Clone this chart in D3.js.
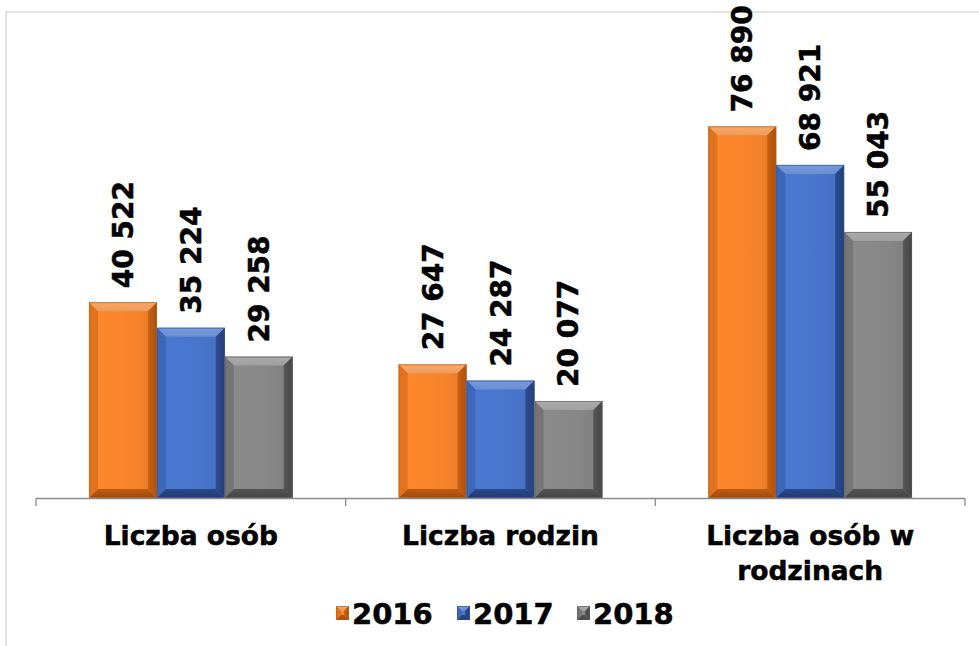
<!DOCTYPE html>
<html>
<head>
<meta charset="utf-8">
<script src="https://cdn.jsdelivr.net/npm/d3@7"></script>
<style>
  html, body { margin: 0; padding: 0; background: #fff; }
  svg { display: block; font-family: "DejaVu Sans", Verdana, sans-serif; }
</style>
</head>
<body>
<svg id="chart" width="979" height="646"></svg>
<script>
const categories = [["Liczba osób"], ["Liczba rodzin"], ["Liczba osób w", "rodzinach"]];
const categoryKeys = ["Liczba osób", "Liczba rodzin", "Liczba osób w rodzinach"];
const series = ["2016", "2017", "2018"];
const values2016 = [40522, 27647, 76890];
const values2017 = [35224, 24287, 68921];
const values2018 = [29258, 20077, 55043];
const valuesBySeries = [values2016, values2017, values2018];

const palette = {
  "2016": { base: "#F5832B", top: "#FBA865", left: "#E0731F", right: "#A9520F", bottom: "#9C4A0E", edge: "#B4601E" },
  "2017": { base: "#4875CB", top: "#7399DE", left: "#3D67B8", right: "#263F7A", bottom: "#223A70", edge: "#2F5496" },
  "2018": { base: "#868686", top: "#ABABAB", left: "#767676", right: "#474747", bottom: "#444444", edge: "#5a5a5a" }
};

const svg = d3.select("#chart");
const W = 979, H = 646;

// outer frame
svg.append("rect").attr("x", 6).attr("y", 12).attr("width", W + 20).attr("height", H + 20)
  .attr("fill", "none").attr("stroke", "#d9d9d9").attr("stroke-width", 1.5);

const x0 = d3.scaleBand().domain(categoryKeys).range([36, 965]).paddingInner(0).paddingOuter(0);
const x1 = d3.scaleBand().domain(series).range([0, x0.bandwidth()]).paddingInner(0).paddingOuter(0.78);
const y = d3.scaleLinear().domain([0, 90000]).range([498, 63]);

// gradients
const defs = svg.append("defs");
series.forEach(s => {
  const c = palette[s];
  const g = defs.append("linearGradient").attr("id", "main" + s).attr("x1", 0).attr("y1", 0).attr("x2", 1).attr("y2", 0);
  g.append("stop").attr("offset", "0%").attr("stop-color", d3.color(c.base).brighter(0.1));
  g.append("stop").attr("offset", "70%").attr("stop-color", c.base);
  g.append("stop").attr("offset", "100%").attr("stop-color", d3.color(c.base).darker(0.2));
  const gt = defs.append("linearGradient").attr("id", "top" + s).attr("x1", 0).attr("y1", 0).attr("x2", 0).attr("y2", 1);
  gt.append("stop").attr("offset", "0%").attr("stop-color", c.top);
  gt.append("stop").attr("offset", "100%").attr("stop-color", d3.color(c.top).darker(0.2));
  const gr = defs.append("linearGradient").attr("id", "right" + s).attr("x1", 0).attr("y1", 0).attr("x2", 1).attr("y2", 0);
  gr.append("stop").attr("offset", "0%").attr("stop-color", d3.color(c.right).brighter(0.5));
  gr.append("stop").attr("offset", "100%").attr("stop-color", c.right);
  const gb = defs.append("linearGradient").attr("id", "bottom" + s).attr("x1", 0).attr("y1", 0).attr("x2", 0).attr("y2", 1);
  gb.append("stop").attr("offset", "0%").attr("stop-color", d3.color(c.bottom).brighter(0.6));
  gb.append("stop").attr("offset", "100%").attr("stop-color", c.bottom);
});

function bevel(g, x, yTop, w, h, s, b) {
  const c = palette[s];
  const yb = yTop + h;
  const pt = a => a.map(p => p.join(",")).join(" ");
  g.append("rect").attr("x", x).attr("y", yTop).attr("width", w).attr("height", h).attr("fill", `url(#main${s})`);
  g.append("polygon").attr("points", pt([[x, yTop], [x + w, yTop], [x + w - b, yTop + b], [x + b, yTop + b]])).attr("fill", `url(#top${s})`);
  g.append("polygon").attr("points", pt([[x, yTop], [x + b, yTop + b], [x + b, yb - b], [x, yb]])).attr("fill", c.left);
  g.append("polygon").attr("points", pt([[x + w, yTop], [x + w, yb], [x + w - b, yb - b], [x + w - b, yTop + b]])).attr("fill", `url(#right${s})`);
  g.append("polygon").attr("points", pt([[x, yb], [x + w, yb], [x + w - b, yb - b], [x + b, yb - b]])).attr("fill", `url(#bottom${s})`);
  g.append("rect").attr("x", x + 0.5).attr("y", yTop + 0.5).attr("width", w - 1).attr("height", h - 1)
    .attr("fill", "none").attr("stroke", c.edge).attr("stroke-width", 1).attr("stroke-opacity", 0.6);
}

// bars
const barsG = svg.append("g");
categoryKeys.forEach((cat, ci) => {
  series.forEach((s, si) => {
    const v = valuesBySeries[si][ci];
    const bx = x0(cat) + x1(s);
    const bw = x1.bandwidth();
    const top = y(v);
    const g = barsG.append("g");
    bevel(g, bx, top, bw, y(0) - top, s, 9);
  });
});

// axis
const axisG = svg.append("g").attr("transform", `translate(0,${y(0)})`);
axisG.append("line").attr("x1", x0.range()[0]).attr("x2", x0.range()[1]).attr("y1", 0.5).attr("y2", 0.5)
  .attr("stroke", "#8c8c8c").attr("stroke-width", 1.3);
const tickPositions = categoryKeys.map(c => x0(c)).concat([x0.range()[1]]);
axisG.selectAll("line.tick").data(tickPositions).enter().append("line")
  .attr("x1", d => d).attr("x2", d => d).attr("y1", 0.5).attr("y2", 8)
  .attr("stroke", "#8c8c8c").attr("stroke-width", 1.3);

// category labels
categories.forEach((lines, ci) => {
  const cx = x0(categoryKeys[ci]) + x0.bandwidth() / 2;
  const t = svg.append("text").attr("text-anchor", "middle").attr("font-size", 26.5).attr("font-weight", "bold")
    .attr("fill", "#000").attr("stroke", "#000").attr("stroke-width", 0.5);
  lines.forEach((ln, li) => {
    t.append("tspan").attr("x", cx).attr("y", 545 + li * 35).text(ln);
  });
});

// value labels
const fmt = v => d3.format(",")(v).replace(/,/g, " ");
categoryKeys.forEach((cat, ci) => {
  series.forEach((s, si) => {
    const v = valuesBySeries[si][ci];
    const cx = x0(cat) + x1(s) + x1.bandwidth() / 2;
    svg.append("text")
      .attr("transform", `translate(${cx + 10},${y(v) - 14}) rotate(-90)`)
      .attr("text-anchor", "start").attr("font-size", 28).attr("font-weight", "bold")
      .attr("fill", "#000").attr("stroke", "#000").attr("stroke-width", 0.5)
      .text(fmt(v));
  });
});

// legend
const legendX = [336, 457, 577];
const lg = svg.append("g");
series.forEach((s, si) => {
  const g = lg.append("g");
  bevel(g, legendX[si], 606, 13, 14, s, 5);
  g.append("text").attr("x", legendX[si] + 16).attr("y", 624).attr("font-size", 29).attr("font-weight", "bold")
    .attr("fill", "#000").attr("stroke", "#000").attr("stroke-width", 0.5).text(s);
});
</script>
</body>
</html>
